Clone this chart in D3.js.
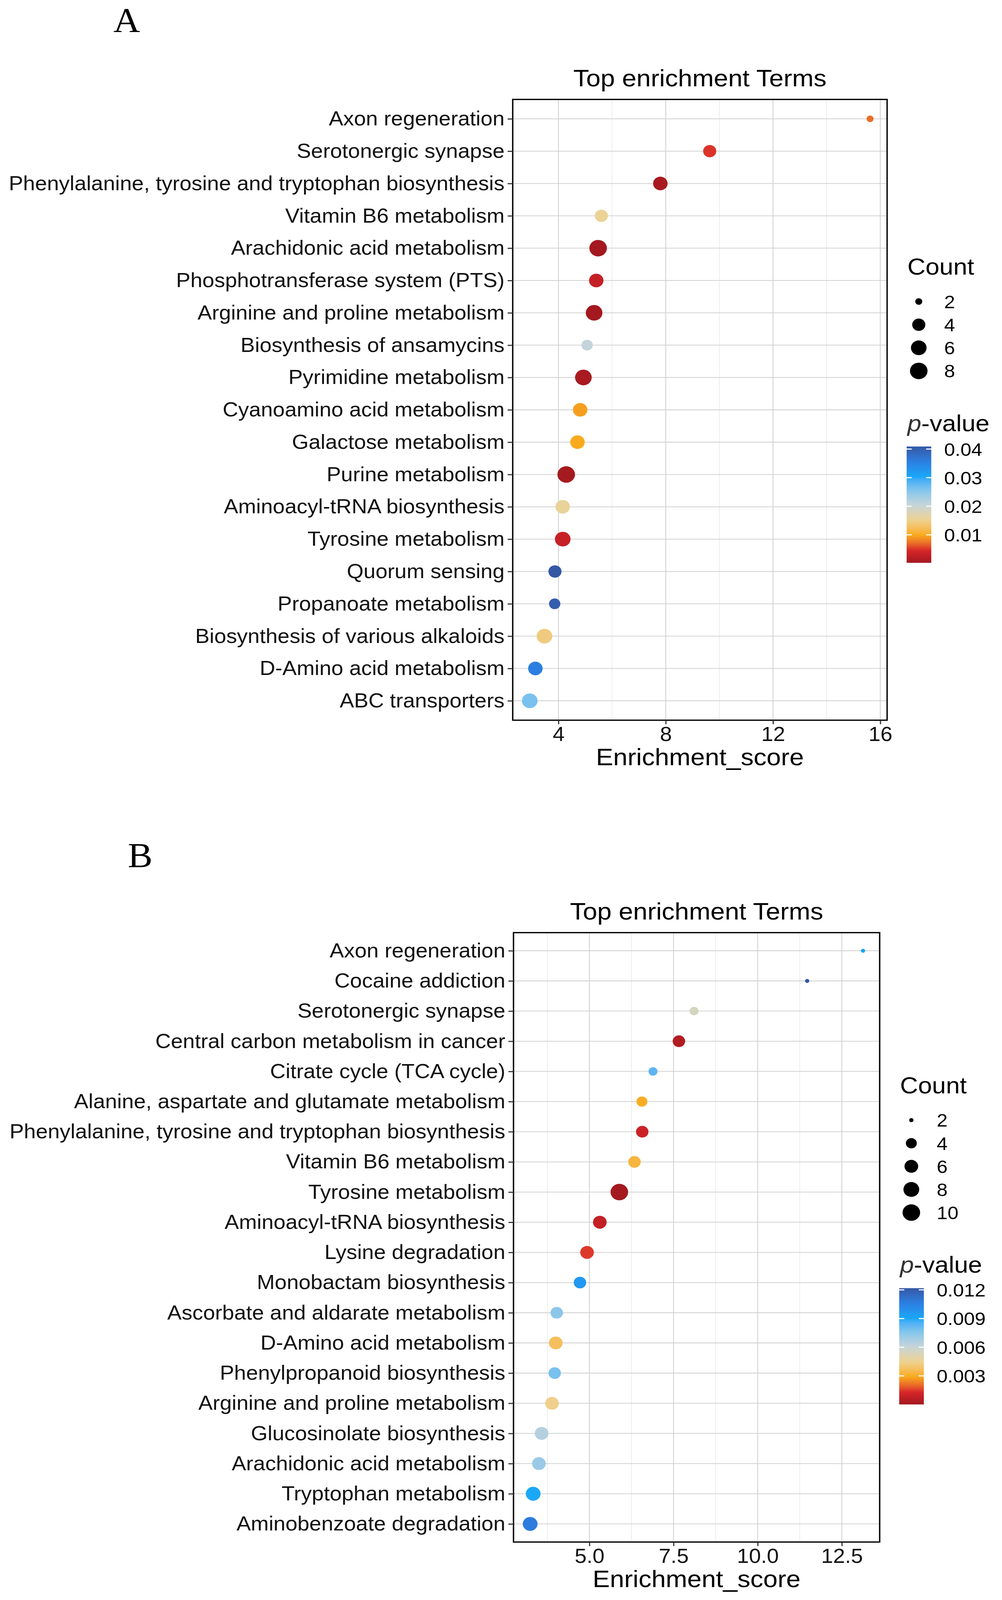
<!DOCTYPE html>
<html>
<head>
<meta charset="utf-8">
<script src="https://cdn.jsdelivr.net/npm/d3@7/dist/d3.min.js"></script>
<style>
html, body { margin: 0; padding: 0; background: #fff; overflow: hidden; }
svg { display: block; }
svg text { font-family: "Liberation Sans", Arial, Helvetica, sans-serif; }
</style>
</head>
<body>
<div id="chart"></div>
<script>
// ---- panel A data ----
var termsA = ["Axon regeneration", "Serotonergic synapse", "Phenylalanine, tyrosine and tryptophan biosynthesis",
  "Vitamin B6 metabolism", "Arachidonic acid metabolism", "Phosphotransferase system (PTS)",
  "Arginine and proline metabolism", "Biosynthesis of ansamycins", "Pyrimidine metabolism",
  "Cyanoamino acid metabolism", "Galactose metabolism", "Purine metabolism", "Aminoacyl-tRNA biosynthesis",
  "Tyrosine metabolism", "Quorum sensing", "Propanoate metabolism", "Biosynthesis of various alkaloids",
  "D-Amino acid metabolism", "ABC transporters"];
var scoreA = [15.62, 9.64, 7.80, 5.60, 5.48, 5.41, 5.33, 5.07, 4.93, 4.81, 4.71, 4.29, 4.16, 4.16, 3.87, 3.86, 3.48, 3.14, 2.93];
var countA = [2, 4, 5, 4, 8, 5, 7, 3, 7, 5, 5, 8, 5, 6, 4, 3, 6, 5, 6];
var pvalA = [0.0072, 0.0050, 0.0006, 0.0155, 0.0002, 0.0029, 0.0003, 0.0206, 0.0006, 0.0094, 0.0100,
  0.0004, 0.0157, 0.0031, 0.0409, 0.0400, 0.0142, 0.0358, 0.0262];
var xTicksA = [4, 8, 12, 16];
var sizeBreaksA = [2, 4, 6, 8];
var pBreaksA = [0.01, 0.02, 0.03, 0.04];

// ---- panel B data ----
var termsB = ["Axon regeneration", "Cocaine addiction", "Serotonergic synapse", "Central carbon metabolism in cancer",
  "Citrate cycle (TCA cycle)", "Alanine, aspartate and glutamate metabolism",
  "Phenylalanine, tyrosine and tryptophan biosynthesis", "Vitamin B6 metabolism", "Tyrosine metabolism",
  "Aminoacyl-tRNA biosynthesis", "Lysine degradation", "Monobactam biosynthesis",
  "Ascorbate and aldarate metabolism", "D-Amino acid metabolism", "Phenylpropanoid biosynthesis",
  "Arginine and proline metabolism", "Glucosinolate biosynthesis", "Arachidonic acid metabolism",
  "Tryptophan metabolism", "Aminobenzoate degradation"];
var scoreB = [13.13, 11.47, 8.11, 7.66, 6.89, 6.56, 6.57, 6.34, 5.89, 5.31, 4.93, 4.72, 4.03, 4.00, 3.97, 3.89, 3.58, 3.50, 3.33, 3.24];
var countB = [2, 2, 3, 5, 3, 4, 5, 5, 10, 6, 6, 5, 5, 6, 5, 6, 6, 6, 7, 7];
var pvalB = [0.0091, 0.01218, 0.0055, 0.0004, 0.0083, 0.0030, 0.0010, 0.0033, 0.00001, 0.0008, 0.0015,
  0.0096, 0.0074, 0.0037, 0.0078, 0.0044, 0.0065, 0.0071, 0.0090, 0.0107];
var xTicksB = [5, 7.5, 10, 12.5];
var sizeBreaksB = [2, 4, 6, 8, 10];
var pBreaksB = [0.003, 0.006, 0.009, 0.012];

// colour ramp, low p (red) -> high p (blue)
var paletteCols = ["#a3191f", "#d9252a", "#f9ab1c", "#ecd393", "#c4d4da", "#84c6ec", "#17a7f8", "#2b7fe2", "#3458a4"];
var paletteAt = [0, 0.11, 0.24, 0.37, 0.5, 0.62, 0.74, 0.87, 1];

var W = 2564, H = 4361;
// drawn in a 2564x4361 coordinate box, stretched to whatever the viewport really is
var svg = d3.select("#chart").append("svg")
  .attr("viewBox", "0 0 " + W + " " + H)
  .attr("preserveAspectRatio", "none")
  .style("width", "100vw")
  .style("height", "100vh");
svg.append("rect").attr("width", W).attr("height", H).attr("fill", "#fff");

function expand(ext) {
  var r = ext[1] - ext[0];
  return [ext[0] - 0.05 * r, ext[1] + 0.05 * r];
}

function drawPanel(cfg, idx) {
  var g = svg.append("g");
  var x = d3.scaleLinear().domain(expand(d3.extent(cfg.score))).range([cfg.left, cfg.right]);
  var y = d3.scalePoint().domain(cfg.terms).range([cfg.top, cfg.bottom]).padding(0.6);

  // colour scale stretched over the data range (like gradientn)
  var pext = d3.extent(cfg.pval);
  var col = d3.scaleLinear()
    .domain(paletteAt.map(function(t) { return pext[0] + t * (pext[1] - pext[0]); }))
    .range(paletteCols)
    .interpolate(d3.interpolateLab);

  // point size: area scaling on rescaled count
  var cext = d3.extent(cfg.count);
  var cRes = d3.scaleLinear().domain(cext).range([0, 1]);
  var diam = d3.scaleLinear().domain([0, 1]).range(cfg.diamRange);
  function rad(c) { return diam(Math.sqrt(cRes(c))) / 2; }

  // grid
  var step = cfg.xTicks[1] - cfg.xTicks[0];
  var dom = x.domain();
  var minor = cfg.xTicks.map(function(t) { return t - step / 2; })
    .concat([cfg.xTicks[cfg.xTicks.length - 1] + step / 2])
    .filter(function(v) { return v > dom[0] && v < dom[1]; });
  g.selectAll(".minor").data(minor).enter().append("line")
    .attr("x1", function(d) { return x(d); }).attr("x2", function(d) { return x(d); })
    .attr("y1", cfg.top).attr("y2", cfg.bottom)
    .attr("stroke", "#e6e6e6").attr("stroke-width", 1.4);
  g.selectAll(".vmajor").data(cfg.xTicks).enter().append("line")
    .attr("x1", function(d) { return x(d); }).attr("x2", function(d) { return x(d); })
    .attr("y1", cfg.top).attr("y2", cfg.bottom)
    .attr("stroke", "#d2d2d2").attr("stroke-width", 2.2);
  g.selectAll(".hmajor").data(cfg.terms).enter().append("line")
    .attr("x1", cfg.left).attr("x2", cfg.right)
    .attr("y1", function(d) { return y(d); }).attr("y2", function(d) { return y(d); })
    .attr("stroke", "#d2d2d2").attr("stroke-width", 2.2);

  // points
  var rows = cfg.terms.map(function(t, i) {
    return { term: t, score: cfg.score[i], count: cfg.count[i], p: cfg.pval[i] };
  });
  g.selectAll(".pt").data(rows).enter().append("circle")
    .attr("cx", function(d) { return x(d.score); })
    .attr("cy", function(d) { return y(d.term); })
    .attr("r", function(d) { return rad(d.count); })
    .attr("fill", function(d) { return col(d.p); });

  // border
  g.append("rect")
    .attr("x", cfg.left).attr("y", cfg.top)
    .attr("width", cfg.right - cfg.left).attr("height", cfg.bottom - cfg.top)
    .attr("fill", "none").attr("stroke", "#000").attr("stroke-width", 3.5);

  // axes
  var xa = g.append("g").attr("transform", "translate(0," + cfg.bottom + ")")
    .call(d3.axisBottom(x).tickValues(cfg.xTicks).tickFormat(d3.format(cfg.xFormat)).tickSize(11).tickPadding(7));
  var ya = g.append("g").attr("transform", "translate(" + cfg.left + ",0)")
    .call(d3.axisLeft(y).tickSize(13).tickPadding(8));
  [xa, ya].forEach(function(a) {
    a.select(".domain").remove();
    a.selectAll(".tick line").attr("stroke", "#333").attr("stroke-width", 3);
    a.selectAll(".tick text").attr("fill", "#111").style("font-size", "55px")
      .style("font-family", "'Liberation Sans', Arial, sans-serif");
  });

  // titles
  var cx = (cfg.left + cfg.right) / 2;
  g.append("text").attr("x", cx).attr("y", cfg.top - 36)
    .attr("text-anchor", "middle").style("font-size", "66px").attr("fill", "#000")
    .text("Top enrichment Terms");
  g.append("text").attr("x", cx).attr("y", cfg.bottom + 123)
    .attr("text-anchor", "middle").style("font-size", "66px").attr("fill", "#000")
    .text("Enrichment_score");

  // panel letter
  g.append("text").attr("x", cfg.letterX).attr("y", cfg.letterY)
    .style("font-family", "'Liberation Serif', 'Times New Roman', serif")
    .style("font-size", "95px").attr("fill", "#000").text(cfg.letter);

  // size legend
  var lx = cfg.right + 52;
  g.append("text").attr("x", lx).attr("y", cfg.legendY)
    .style("font-size", "64px").attr("fill", "#000").text("Count");
  var keyY = function(i) { return cfg.legendY + 73 + i * 63; };
  g.selectAll(".key").data(cfg.sizeBreaks).enter().append("circle")
    .attr("cx", cfg.right + 81)
    .attr("cy", function(d, i) { return keyY(i); })
    .attr("r", function(d) { return rad(d); })
    .attr("fill", "#000");
  g.selectAll(".keylab").data(cfg.sizeBreaks).enter().append("text")
    .attr("x", cfg.right + 146)
    .attr("y", function(d, i) { return keyY(i); })
    .attr("dy", "0.36em")
    .style("font-size", "50px").attr("fill", "#000")
    .text(function(d) { return d; });

  // colour legend
  var pTitleY = keyY(cfg.sizeBreaks.length - 1) + 164;
  var pt = g.append("text").attr("x", lx).attr("y", pTitleY)
    .style("font-size", "64px").attr("fill", "#000");
  pt.append("tspan").style("font-style", "italic").attr("fill", "#333").text("p");
  pt.append("tspan").text("-value");

  var barTop = pTitleY + 42, barH = 317, barX = cfg.right + 50, barW = 63;
  var gradId = "grad" + idx;
  var grad = svg.append("defs").append("linearGradient").attr("id", gradId)
    .attr("x1", 0).attr("y1", 1).attr("x2", 0).attr("y2", 0);
  d3.range(0, 1.0001, 0.02).forEach(function(t) {
    grad.append("stop").attr("offset", t)
      .attr("stop-color", col(pext[0] + t * (pext[1] - pext[0])));
  });
  g.append("rect").attr("x", barX).attr("y", barTop).attr("width", barW).attr("height", barH)
    .attr("fill", "url(#" + gradId + ")");
  var yb = d3.scaleLinear().domain(pext).range([barTop + barH, barTop]);
  cfg.pBreaks.forEach(function(b) {
    var yy = yb(b);
    [[barX, barX + 13], [barX + barW - 13, barX + barW]].forEach(function(s) {
      g.append("line").attr("x1", s[0]).attr("x2", s[1]).attr("y1", yy).attr("y2", yy)
        .attr("stroke", "#fff").attr("stroke-width", 3);
    });
    g.append("text").attr("x", cfg.right + 146).attr("y", yy).attr("dy", "0.36em")
      .style("font-size", "50px").attr("fill", "#000")
      .text(d3.format(cfg.pFormat)(b));
  });
}

drawPanel({
  terms: termsA, score: scoreA, count: countA, pval: pvalA,
  xTicks: xTicksA, sizeBreaks: sizeBreaksA, pBreaks: pBreaksA,
  xFormat: "d", pFormat: ".2f", diamRange: [18, 45],
  left: 1312, right: 2270, top: 271, bottom: 1963,
  legendY: 749, letter: "A", letterX: 290, letterY: 86
}, 0);

drawPanel({
  terms: termsB, score: scoreB, count: countB, pval: pvalB,
  xTicks: xTicksB, sizeBreaks: sizeBreaksB, pBreaks: pBreaksB,
  xFormat: ".1f", pFormat: ".3f", diamRange: [11, 45],
  left: 1314, right: 2251, top: 2542, bottom: 4203,
  legendY: 2980, letter: "B", letterX: 327, letterY: 2363
}, 1);
</script>
</body>
</html>
